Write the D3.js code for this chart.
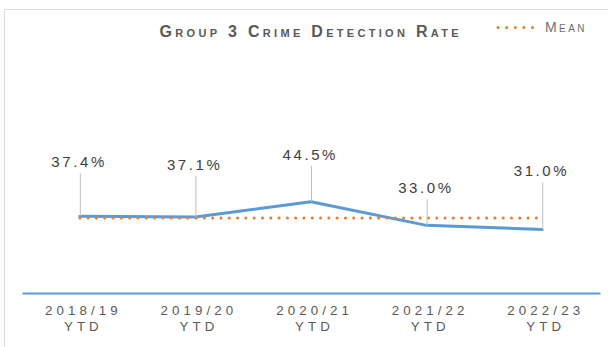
<!DOCTYPE html>
<html>
<head>
<meta charset="utf-8">
<script src="https://cdn.jsdelivr.net/npm/d3@7"></script>
<style>
  html, body { margin: 0; padding: 0; background: #fff; }
  svg { display: block; }
  text { font-family: "Liberation Sans", Arial, sans-serif; }
</style>
</head>
<body>
<svg id="chart" width="608" height="347"></svg>
<script>
// Group 3 crime detection rate by financial year (year to date)
const years = ["2018/19", "2019/20", "2020/21", "2021/22", "2022/23"];
const yearSuffix = "YTD";
const rates = [0.374, 0.371, 0.445, 0.330, 0.310];
// vertical offset of each data label above its point
const labelLift = [49, 47, 42, 32, 53];

const meanRate = d3.mean(rates);

const svg = d3.select("#chart");

// chart frame
svg.append("rect")
  .attr("x", 4.5).attr("y", 9.5)
  .attr("width", 640).attr("height", 400)
  .attr("fill", "none").attr("stroke", "#d9d9d9").attr("stroke-width", 1);

const plot = { left: 22, right: 600, top: 88, bottom: 293 };

const x = d3.scaleBand().domain(years).range([plot.left, plot.right]);
const y = d3.scaleLinear().domain([0, 1]).range([plot.bottom, plot.top]);
const cx = d => x(d) + x.bandwidth() / 2;

// apply letter spacing to a text selection
function spaced(sel, spacing) {
  return sel.style("letter-spacing", spacing + "px");
}

// title
spaced(svg.append("text")
  .attr("x", 309 + 1.7).attr("y", 37)
  .attr("text-anchor", "middle")
  .attr("fill", "#595959")
  .attr("font-size", 16)
  .attr("font-weight", "bold")
  .style("font-variant", "small-caps"), 3.3)
  .text("Group 3 Crime Detection Rate");

// legend
const legend = svg.append("g");
legend.append("line")
  .attr("x1", 498).attr("x2", 541).attr("y1", 27.5).attr("y2", 27.5)
  .attr("stroke", "#ed7d31").attr("stroke-width", 3)
  .attr("stroke-linecap", "round").attr("stroke-dasharray", "0.1 8.5");
spaced(legend.append("text")
  .attr("x", 545).attr("y", 32)
  .attr("fill", "#6f6f6f")
  .attr("font-size", 14)
  .style("font-variant", "small-caps"), 2.4)
  .text("Mean");

// category axis
const xAxis = d3.axisBottom(x).tickSize(0).tickPadding(0);
const gx = svg.append("g").attr("transform", `translate(0,${plot.bottom})`).call(xAxis);
gx.select(".domain").attr("stroke", "#5b9bd5").attr("stroke-width", 2);
gx.selectAll(".tick text").remove();
const axisSpacing = 4.1;
gx.selectAll(".tick").each(function(d) {
  const t = spaced(d3.select(this).append("text")
    .attr("text-anchor", "middle")
    .attr("fill", "#595959")
    .attr("font-size", 13.3), axisSpacing);
  t.append("tspan").attr("x", 1.5 + axisSpacing / 2).attr("y", 22).text(d);
  t.append("tspan").attr("x", 1.5 + axisSpacing / 2).attr("y", 38).text(yearSuffix);
});

// rate line
const line = d3.line().x((d, i) => cx(years[i])).y(d => y(d));
svg.append("path")
  .datum(rates)
  .attr("d", line)
  .attr("fill", "none")
  .attr("stroke", "#5b9bd5").attr("stroke-width", 3)
  .attr("stroke-linejoin", "round").attr("stroke-linecap", "round");

// mean line, drawn over the rate line
svg.append("line")
  .attr("x1", cx(years[0])).attr("x2", cx(years[years.length - 1]))
  .attr("y1", y(meanRate)).attr("y2", y(meanRate))
  .attr("stroke", "#ed7d31").attr("stroke-width", 3)
  .attr("stroke-linecap", "round").attr("stroke-dasharray", "0.1 8.2");

// data labels with leader lines
const fmt = d3.format(".1%");
const labels = svg.append("g");
const labelSpacing = 2.6;
rates.forEach((v, i) => {
  const px = cx(years[i]), py = y(v);
  const ly = py - labelLift[i];
  labels.append("line")
    .attr("x1", px + 0.5).attr("x2", px + 0.5)
    .attr("y1", ly + 6).attr("y2", py)
    .attr("stroke", "#bfbfbf").attr("stroke-width", 1);
  spaced(labels.append("text")
    .attr("x", px - 2 + labelSpacing / 2).attr("y", ly)
    .attr("text-anchor", "middle")
    .attr("fill", "#404040")
    .attr("font-size", 15), labelSpacing)
    .text(fmt(v));
});
</script>
</body>
</html>
